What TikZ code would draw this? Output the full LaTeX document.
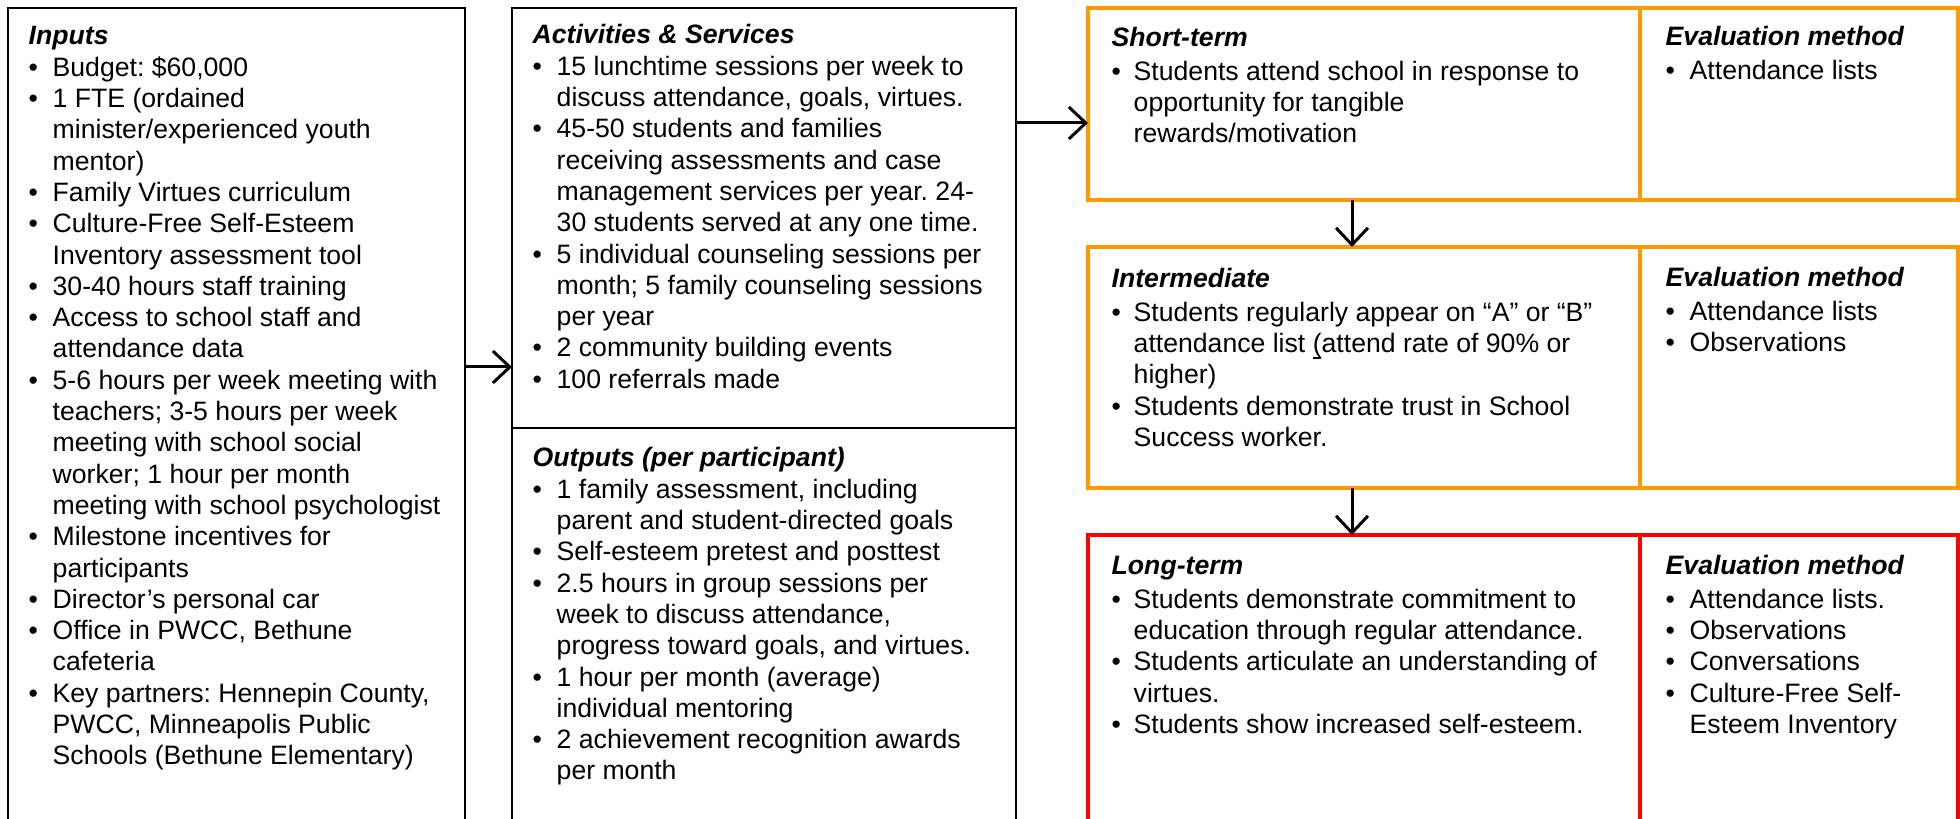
\documentclass[tikz,border=0pt]{standalone}
\usepackage{fontspec}
\setmainfont{Liberation Sans}
\usetikzlibrary{arrows.meta}

\definecolor{orangeline}{RGB}{255,153,0}
\newcommand{\ttl}[1]{\textbf{\textit{#1}}}
\frenchspacing

\begin{document}
\begin{tikzpicture}[x=0.01cm, y=-0.01cm,
  box/.style={draw, line width=0.57pt, anchor=north west, inner sep=0pt, outer sep=0pt},
  obox/.style={box, draw=orangeline, line width=1.14pt},
  rbox/.style={box, draw=red, line width=1.14pt},
  txt/.style={anchor=base west, inner sep=0pt, font=\fontsize{7.57}{8.9}\selectfont},
  arr/.style={line width=0.85pt, -{Straight Barb[length=0.17cm,width=0.32cm]}}]
\useasboundingbox (0,0) rectangle (1960,819);
\clip (0,0) rectangle (1960,819);

% left column boxes
\node[box, minimum width=4.57cm, minimum height=8.4cm] (inputs) at (8,8) {};
\node[box, minimum width=5.04cm, minimum height=4.2cm] (activ) at (512,8) {};
\node[box, minimum width=5.04cm, minimum height=4.1cm] (outputs) at (512,428) {};

% outcome boxes
\node[obox, minimum width=5.52cm, minimum height=1.92cm] (short) at (1088,8) {};
\node[obox, minimum width=3.18cm, minimum height=1.92cm] (shortev) at (1640,8) {};
\node[obox, minimum width=5.52cm, minimum height=2.41cm] (interm) at (1088,247) {};
\node[obox, minimum width=3.18cm, minimum height=2.41cm] (intermev) at (1640,247) {};
\node[rbox, minimum width=5.52cm, minimum height=3.0cm] (long) at (1088,535) {};
\node[rbox, minimum width=3.18cm, minimum height=3.0cm] (longev) at (1640,535) {};

\node[txt] (inputs-t) at (28,45) {
\begin{tabular}[t]{@{}p{0.24cm}@{}l@{}}
\multicolumn{2}{@{}l@{}}{\ttl{Inputs}}\\
\textbullet & Budget: \$60,000\\
\textbullet & 1 FTE (ordained\\
 & minister/experienced youth\\
 & mentor)\\
\textbullet & Family Virtues curriculum\\
\textbullet & Culture-Free Self-Esteem\\
 & Inventory assessment tool\\
\textbullet & 30-40 hours staff training\\
\textbullet & Access to school staff and\\
 & attendance data\\
\textbullet & 5-6 hours per week meeting with\\
 & teachers; 3-5 hours per week\\
 & meeting with school social\\
 & worker; 1 hour per month\\
 & meeting with school psychologist\\
\textbullet & Milestone incentives for\\
 & participants\\
\textbullet & Director’s personal car\\
\textbullet & Office in PWCC, Bethune\\
 & cafeteria\\
\textbullet & Key partners: Hennepin County,\\
 & PWCC, Minneapolis Public\\
 & Schools (Bethune Elementary)
\end{tabular}
};

\node[txt] (activ-t) at (532,44) {
\begin{tabular}[t]{@{}p{0.24cm}@{}l@{}}
\multicolumn{2}{@{}l@{}}{\ttl{Activities \& Services}}\\
\textbullet & 15 lunchtime sessions per week to\\
 & discuss attendance, goals, virtues.\\
\textbullet & 45-50 students and families\\
 & receiving assessments and case\\
 & management services per year. 24-\\
 & 30 students served at any one time.\\
\textbullet & 5 individual counseling sessions per\\
 & month; 5 family counseling sessions\\
 & per year\\
\textbullet & 2 community building events\\
\textbullet & 100 referrals made
\end{tabular}
};

\node[txt] (outputs-t) at (532,467) {
\begin{tabular}[t]{@{}p{0.24cm}@{}l@{}}
\multicolumn{2}{@{}l@{}}{\ttl{Outputs (per participant)}}\\
\textbullet & 1 family assessment, including\\
 & parent and student-directed goals\\
\textbullet & Self-esteem pretest and posttest\\
\textbullet & 2.5 hours in group sessions per\\
 & week to discuss attendance,\\
 & progress toward goals, and virtues.\\
\textbullet & 1 hour per month (average)\\
 & individual mentoring\\
\textbullet & 2 achievement recognition awards\\
 & per month
\end{tabular}
};

\node[txt] (short-t) at (1111,47) {
\begin{tabular}[t]{@{}p{0.22cm}@{}l@{}}
\multicolumn{2}{@{}l@{}}{\ttl{Short-term}}\\[0.02cm]
\textbullet & Students attend school in response to\\
 & opportunity for tangible\\
 & rewards/motivation
\end{tabular}
};
\node[txt] (shortev-t) at (1665,46) {
\begin{tabular}[t]{@{}p{0.24cm}@{}l@{}}
\multicolumn{2}{@{}l@{}}{\ttl{Evaluation method}}\\[0.02cm]
\textbullet & Attendance lists
\end{tabular}
};

\node[txt] (interm-t) at (1111,288) {
\begin{tabular}[t]{@{}p{0.22cm}@{}l@{}}
\multicolumn{2}{@{}l@{}}{\ttl{Intermediate}}\\[0.02cm]
\textbullet & Students regularly appear on “A” or “B”\\
 & attendance list \rlap{\rule[-1.7pt]{2.2pt}{0.35pt}}(attend rate of 90\% or\\
 & higher)\\
\textbullet & Students demonstrate trust in School\\
 & Success worker.
\end{tabular}
};
\node[txt] (intermev-t) at (1665,287) {
\begin{tabular}[t]{@{}p{0.24cm}@{}l@{}}
\multicolumn{2}{@{}l@{}}{\ttl{Evaluation method}}\\[0.02cm]
\textbullet & Attendance lists\\
\textbullet & Observations
\end{tabular}
};

\node[txt] (long-t) at (1111,575) {
\begin{tabular}[t]{@{}p{0.22cm}@{}l@{}}
\multicolumn{2}{@{}l@{}}{\ttl{Long-term}}\\[0.02cm]
\textbullet & Students demonstrate commitment to\\
 & education through regular attendance.\\
\textbullet & Students articulate an understanding of\\
 & virtues.\\
\textbullet & Students show increased self-esteem.
\end{tabular}
};
\node[txt] (longev-t) at (1665,575) {
\begin{tabular}[t]{@{}p{0.24cm}@{}l@{}}
\multicolumn{2}{@{}l@{}}{\ttl{Evaluation method}}\\[0.02cm]
\textbullet & Attendance lists.\\
\textbullet & Observations\\
\textbullet & Conversations\\
\textbullet & Culture-Free Self-\\
 & Esteem Inventory
\end{tabular}
};

% arrows
\coordinate (rowA) at (0,367);
\coordinate (rowB) at (0,123);
\coordinate (colX) at (1352,0);
\draw[arr] (inputs.east |- rowA) -- (activ.west |- rowA);
\draw[arr] (activ.east |- rowB) -- (short.west |- rowB);
\draw[arr] (short.south -| colX) -- (interm.north -| colX);
\draw[arr] (interm.south -| colX) -- (long.north -| colX);

\end{tikzpicture}
\end{document}
